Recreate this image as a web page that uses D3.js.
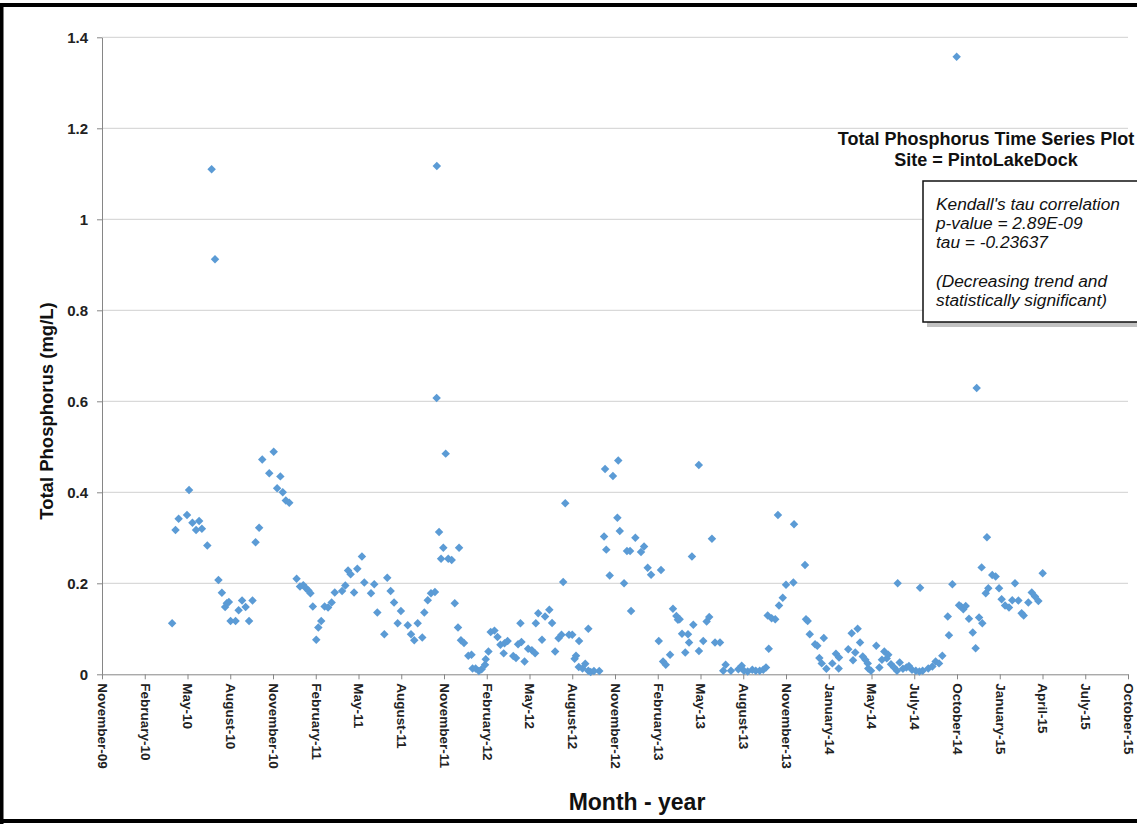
<!DOCTYPE html>
<html><head><meta charset="utf-8">
<script src="https://cdn.jsdelivr.net/npm/d3@7"></script>
<style>
body{margin:0;background:#fff;}
svg{display:block;font-family:"Liberation Sans",Arial,sans-serif;}
</style></head>
<body><svg id="c" width="1137" height="824"></svg>
<script>
// Sample dates as decimal years
const sampleYear = [2010.260,2010.280,2010.298,2010.347,2010.359,2010.379,2010.400,2010.418,2010.434,2010.466,
2010.491,2010.511,2010.531,2010.551,2010.570,2010.580,2010.592,2010.602,2010.631,2010.649,
2010.669,2010.690,2010.710,2010.730,2010.748,2010.769,2010.787,2010.828,2010.854,2010.874,
2010.893,2010.907,2010.925,2010.945,2010.988,2011.008,2011.027,2011.043,2011.057,2011.069,
2011.083,2011.103,2011.115,2011.132,2011.152,2011.172,2011.193,2011.211,2011.254,2011.273,
2011.289,2011.304,2011.324,2011.343,2011.370,2011.384,2011.423,2011.442,2011.460,2011.501,
2011.518,2011.538,2011.558,2011.579,2011.598,2011.638,2011.657,2011.676,2011.696,2011.723,
2011.735,2011.755,2011.774,2011.797,2011.808,2011.807,2011.821,2011.833,2011.846,2011.860,
2011.875,2011.895,2011.913,2011.932,2011.938,2011.949,2011.967,2011.992,2012.011,2012.017,
2012.035,2012.054,2012.070,2012.090,2012.094,2012.110,2012.123,2012.145,2012.163,2012.180,
2012.199,2012.204,2012.222,2012.255,2012.271,2012.283,2012.297,2012.303,2012.321,2012.342,
2012.364,2012.383,2012.387,2012.401,2012.423,2012.441,2012.466,2012.482,2012.500,2012.520,
2012.537,2012.547,2012.559,2012.581,2012.600,2012.614,2012.622,2012.638,2012.640,2012.660,
2012.676,2012.694,2012.694,2012.708,2012.727,2012.758,2012.786,2012.792,2012.799,2012.819,
2012.838,2012.864,2012.869,2012.878,2012.903,2012.920,2012.938,2012.944,2012.969,2013.002,
2013.020,2013.041,2013.061,2013.106,2013.119,2013.131,2013.147,2013.172,2013.189,2013.209,
2013.218,2013.228,2013.242,2013.261,2013.277,2013.283,2013.300,2013.308,2013.340,2013.341,
2013.366,2013.386,2013.401,2013.417,2013.435,2013.464,2013.483,2013.497,2013.528,2013.571,
2013.591,2013.604,2013.626,2013.653,2013.673,2013.696,2013.717,2013.733,2013.743,2013.749,
2013.766,2013.787,2013.803,2013.809,2013.831,2013.850,2013.893,2013.897,2013.961,2013.967,
2013.977,2013.989,2014.020,2014.033,2014.045,2014.059,2014.071,2014.086,2014.121,2014.142,
2014.158,2014.160,2014.214,2014.234,2014.242,2014.255,2014.269,2014.283,2014.299,2014.314,
2014.328,2014.331,2014.347,2014.378,2014.396,2014.411,2014.425,2014.439,2014.448,2014.464,
2014.482,2014.499,2014.503,2014.515,2014.534,2014.554,2014.569,2014.587,2014.609,2014.630,
2014.634,2014.649,2014.682,2014.706,2014.725,2014.745,2014.764,2014.796,2014.803,2014.823,
2014.848,2014.862,2014.873,2014.887,2014.901,2014.920,2014.942,2014.959,2014.965,2014.979,
2014.994,2014.998,2015.018,2015.025,2015.033,2015.056,2015.076,2015.096,2015.111,2015.131,
2015.154,2015.173,2015.189,2015.209,2015.228,2015.240,2015.267,2015.287,2015.306,2015.326,
2015.351];
// Total phosphorus (mg/L)
const tpValue = [0.112,0.317,0.342,0.350,0.405,0.333,0.317,0.337,0.320,0.283,
1.110,0.912,0.207,0.179,0.148,0.156,0.159,0.117,0.117,0.141,
0.162,0.148,0.117,0.162,0.290,0.322,0.472,0.442,0.489,0.409,
0.435,0.400,0.382,0.377,0.210,0.193,0.196,0.189,0.184,0.178,
0.149,0.076,0.103,0.117,0.149,0.147,0.158,0.180,0.183,0.195,
0.228,0.220,0.180,0.232,0.259,0.202,0.178,0.198,0.136,0.088,
0.212,0.183,0.158,0.112,0.139,0.108,0.088,0.075,0.112,0.081,
0.136,0.163,0.178,0.181,1.117,0.607,0.313,0.254,0.278,0.485,
0.254,0.251,0.156,0.103,0.278,0.075,0.069,0.041,0.043,0.013,
0.013,0.007,0.011,0.021,0.033,0.050,0.093,0.096,0.082,0.065,
0.046,0.068,0.073,0.040,0.036,0.066,0.112,0.071,0.028,0.056,
0.053,0.046,0.112,0.134,0.076,0.127,0.142,0.113,0.050,0.079,
0.087,0.203,0.376,0.087,0.087,0.034,0.041,0.016,0.073,0.013,
0.023,0.100,0.008,0.005,0.007,0.007,0.303,0.451,0.274,0.217,
0.436,0.344,0.470,0.315,0.200,0.271,0.271,0.139,0.300,0.269,
0.281,0.234,0.219,0.073,0.229,0.028,0.021,0.043,0.144,0.128,
0.120,0.121,0.089,0.048,0.088,0.070,0.259,0.109,0.460,0.051,
0.073,0.116,0.126,0.298,0.070,0.070,0.008,0.021,0.008,0.011,
0.019,0.008,0.006,0.010,0.008,0.008,0.010,0.015,0.129,0.056,
0.123,0.121,0.350,0.151,0.168,0.197,0.202,0.330,0.240,0.121,
0.117,0.088,0.066,0.063,0.036,0.024,0.080,0.012,0.024,0.045,
0.013,0.037,0.055,0.090,0.031,0.048,0.100,0.070,0.039,0.032,
0.024,0.013,0.008,0.063,0.015,0.032,0.050,0.035,0.043,0.022,
0.015,0.008,0.200,0.026,0.012,0.015,0.018,0.010,0.008,0.006,
0.190,0.008,0.013,0.017,0.028,0.024,0.041,0.127,0.086,0.198,
1.357,0.152,0.149,0.143,0.150,0.122,0.092,0.057,0.629,0.125,
0.235,0.112,0.178,0.301,0.189,0.218,0.215,0.189,0.165,0.151,
0.147,0.163,0.200,0.162,0.134,0.129,0.158,0.180,0.171,0.161,
0.222];
const xTickLabels = ["November-09","February-10","May-10","August-10","November-10","February-11","May-11","August-11",
"November-11","February-12","May-12","August-12","November-12","February-13","May-13","August-13","November-13",
"January-14","May-14","July-14","October-14","January-15","April-15","July-15","October-15"];
const yTickValues = [0,0.2,0.4,0.6,0.8,1.0,1.2,1.4];
const yTickLabels = ["0","0.2","0.4","0.6","0.8","1","1.2","1.4"];
const chartTitle = ["Total Phosphorus Time Series Plot","Site = PintoLakeDock"];
const noteLines = ["Kendall's tau correlation","p-value = 2.89E-09","tau = -0.23637","","(Decreasing trend and","statistically significant)"];

const svg = d3.select("#c");
const W=1137,H=824;
svg.append("rect").attr("width",W).attr("height",H).attr("fill","#fff");

const xStart = 2009.85, xStep = 0.25;
const tickPos = xTickLabels.map((d,i)=>xStart + i*xStep);
const x = d3.scaleLinear().domain([tickPos[0], tickPos[tickPos.length-1]]).range([102,1128]);
const y = d3.scaleLinear().domain([0,1.4]).range([674.3,37.3]);

// gridlines
svg.append("g").selectAll("line").data(yTickValues.slice(1)).join("line")
  .attr("x1",x.range()[0]).attr("x2",x.range()[1])
  .attr("y1",d=>y(d)).attr("y2",d=>y(d))
  .attr("stroke","#d9d9d9").attr("stroke-width",1.2);

// y axis
const ya = svg.append("g").attr("transform","translate(102,0)")
  .call(d3.axisLeft(y).tickValues(yTickValues).tickFormat((d,i)=>yTickLabels[i]).tickSize(5).tickSizeOuter(0).tickPadding(9));
ya.select(".domain").attr("stroke","#868686");
ya.selectAll(".tick line").attr("stroke","#868686");
ya.selectAll("text").attr("font-size",15).attr("font-weight","bold").attr("fill","#222")
  .attr("font-family","'Liberation Sans',Arial,sans-serif");

// x axis
const xa = svg.append("g").attr("transform","translate(0,674.3)")
  .call(d3.axisBottom(x).tickValues(tickPos).tickFormat((d,i)=>xTickLabels[i]).tickSize(5).tickSizeOuter(0));
xa.select(".domain").attr("stroke","#868686");
xa.selectAll(".tick line").attr("stroke","#868686");
xa.selectAll("text").attr("font-size",13.5).attr("font-weight","bold").attr("fill","#222")
  .attr("font-family","'Liberation Sans',Arial,sans-serif")
  .attr("text-anchor","start").attr("transform","rotate(90)")
  .attr("x",9).attr("y",0).attr("dy","0.35em");

// points
const pts = sampleYear.map((t,i)=>({t, v: tpValue[i]}));
const sym = d3.symbol(d3.symbolSquare, 36);
svg.append("g").selectAll("path").data(pts).join("path")
  .attr("d", sym)
  .attr("transform", d=>`translate(${x(d.t)},${y(d.v)}) rotate(45)`)
  .attr("fill","#5b9bd5");

// axis titles
svg.append("text").attr("transform","translate(53,411) rotate(-90)").attr("text-anchor","middle")
  .attr("font-size",18.5).attr("font-weight","bold").attr("fill","#111").text("Total Phosphorus (mg/L)");
svg.append("text").attr("x",637).attr("y",810).attr("text-anchor","middle")
  .attr("font-size",23).attr("font-weight","bold").attr("fill","#111").text("Month - year");

// chart title
svg.append("g").selectAll("text").data(chartTitle).join("text")
  .attr("x",986).attr("y",(d,i)=>145+i*21).attr("text-anchor","middle")
  .attr("font-size",18).attr("font-weight","bold").attr("fill","#111").text(d=>d);

// annotation box with shadow
svg.append("rect").attr("x",927).attr("y",185).attr("width",260).attr("height",142).attr("fill","#9a9a9a").attr("opacity",0.6);
svg.append("rect").attr("x",923).attr("y",181).attr("width",260).attr("height",141).attr("fill","#fff").attr("stroke","#111").attr("stroke-width",1.5);
svg.append("g").selectAll("text").data(noteLines).join("text")
  .attr("x",936).attr("y",(d,i)=>210+i*19.2)
  .attr("font-size",17.3).attr("font-style","italic").attr("fill","#111").text(d=>d);

// frame
svg.append("rect").attr("x",0).attr("y",3).attr("width",W).attr("height",4).attr("fill","#000");
svg.append("rect").attr("x",0).attr("y",3).attr("width",3.5).attr("height",H-3).attr("fill","#000");
svg.append("rect").attr("x",0).attr("y",819).attr("width",W).attr("height",4).attr("fill","#000");
</script></body></html>
